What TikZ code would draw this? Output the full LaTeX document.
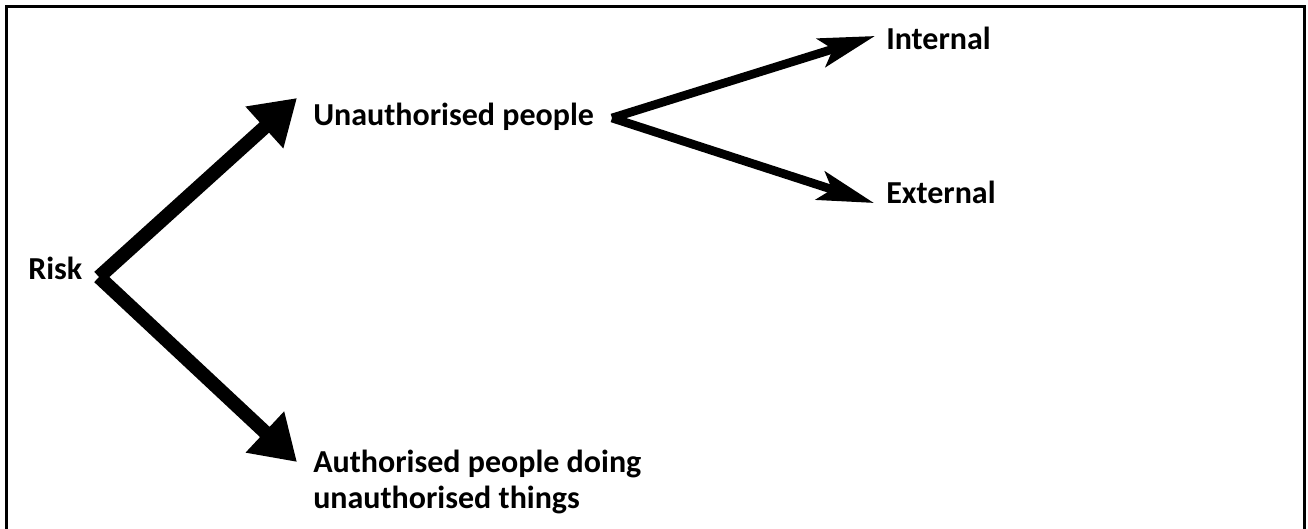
\documentclass[tikz,border=0pt]{standalone}
\usepackage{fontspec}
\setmainfont{Carlito}
\usetikzlibrary{arrows.meta}
\begin{document}
\begin{tikzpicture}[x=0.75pt,y=-0.75pt,
  lbl/.style={font=\bfseries\fontsize{24}{26.5}\selectfont, inner sep=0pt, anchor=base west, align=left},
  bigarrow/.style={line width=10.5pt, line cap=butt, -{Triangle[length=33pt,width=40pt]}},
  smallarrow/.style={line width=6.5pt, line cap=butt, -{Stealth[length=42pt,width=22pt,inset=9pt]}}]
\useasboundingbox (0,0) rectangle (1308,528);
\clip (0,0) rectangle (1308,528);
\draw[line width=1.6pt] (6.5,560) -- (6.5,6.5) -- (1304.5,6.5) -- (1304.5,560);

\node[lbl] (risk) at (28,279) {Risk};
\node[lbl] (unauth) at (313,125) {Unauthorised people};
\node[lbl] (internal) at (886,50) {Internal};
\node[lbl] (external) at (886,203) {External};
\node[lbl] (auth) at (313,508) {Authorised people doing\\unauthorised things};

\coordinate (v1) at (99,277);
\coordinate (t1) at (297,98);
\coordinate (t2) at (297,462);
\coordinate (v2) at (612,118);
\coordinate (t3) at (875,36);
\coordinate (t4) at (874,203);

\draw[bigarrow] (v1) -- (t1);
\draw[bigarrow] (v1) -- (t2);
\draw[smallarrow] (v2) -- (t3);
\draw[smallarrow] (v2) -- (t4);
\end{tikzpicture}
\end{document}
